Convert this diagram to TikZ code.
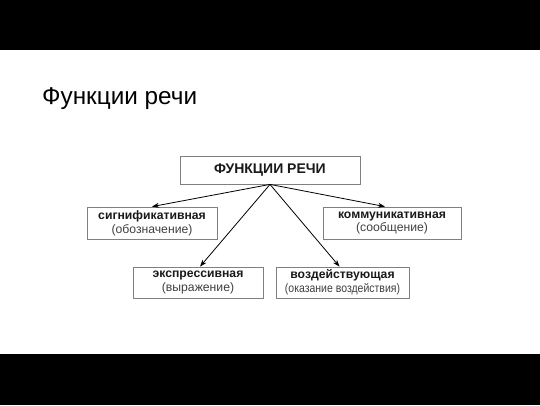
\documentclass[tikz,border=0pt]{standalone}
\usepackage{fontspec}
\setmainfont{Liberation Sans}
\usetikzlibrary{arrows.meta}
\begin{document}
\begin{tikzpicture}[x=1pt,y=-1pt,
  box/.style={draw=black!50, line width=0.8pt, fill=white, inner sep=0pt, align=center,
    font=\fontsize{12.2}{13.8}\selectfont, text=black!90},
  arr/.style={-{Stealth[length=7pt,width=5pt]}, line width=0.8pt}]
\useasboundingbox (0,0) rectangle (540,405);
\fill[black] (0,0) rectangle (540,50);
\fill[black] (0,354) rectangle (540,405);
\node[anchor=base west, font=\fontsize{24.3}{28}\selectfont, inner sep=0pt] (title) at (42,104) {Функции речи};
\node[box, minimum width=180pt, minimum height=28pt, font=\fontsize{14}{16}\selectfont\bfseries] (top) at (270,170) {ФУНКЦИИ РЕЧИ};
\node[box, minimum width=130pt, minimum height=32pt] (sig) at (152,223)
  {\textbf{сигнификативная}\\\textcolor{black!75}{(обозначение)}};
\node[box, minimum width=138pt, minimum height=32pt] (kom) at (392,223)
  {\textbf{коммуникативная}\\\textcolor{black!75}{(сообщение)}};
\node[box, minimum width=130pt, minimum height=31pt] (eks) at (198,282.5)
  {\textbf{экспрессивная}\\\textcolor{black!75}{(выражение)}};
\node[box, minimum width=133pt, minimum height=31pt] (voz) at (342.5,282.5)
  {\textbf{воздействующая}\\\textcolor{black!75}{\scalebox{0.86}[1]{(оказание воздействия)}}};
\draw[arr] (top.south) -- (sig.north);
\draw[arr] (top.south) -- ([xshift=-7pt]kom.north);
\draw[arr] (top.south) -- ([xshift=2pt]eks.north);
\draw[arr] (top.south) -- ([xshift=-3pt]voz.north);
\end{tikzpicture}
\end{document}
